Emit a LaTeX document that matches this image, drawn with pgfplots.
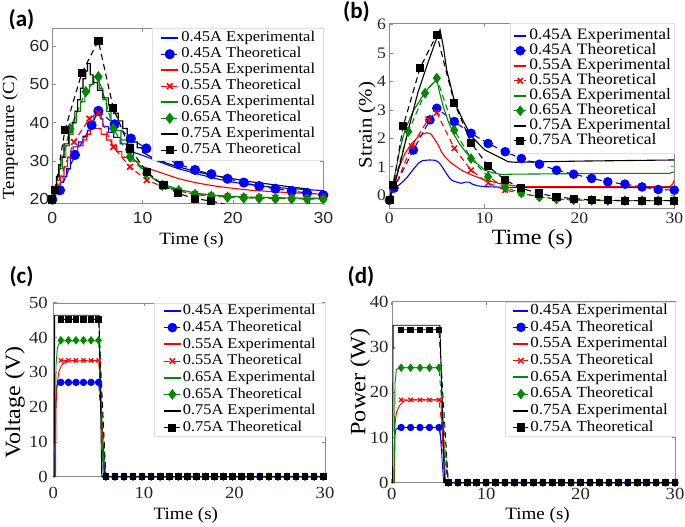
\documentclass[border=0pt]{standalone}
\usepackage{fontspec}
\setmainfont{Liberation Serif}[FakeStretch=1.1]
\setsansfont{Liberation Sans}[FakeStretch=1.1]
\newfontfamily\panelfont{Carlito}
\usepackage{pgfplots}
\usepackage{pgfplotstable}
\pgfplotsset{compat=1.18}
\definecolor{mblue}{RGB}{0,0,255}
\definecolor{mred}{RGB}{255,0,0}
\definecolor{mgreen}{RGB}{0,135,0}
\newcommand\fs[1]{\fontsize{#1}{#1}\selectfont}
\pgfplotsset{
  panel/.style={scale only axis, anchor=south west, xmin=0, xmax=30, xtick={0,10,20,30},
    tick align=inside, major tick length=3.5pt,
    axis line style={black!45}, every tick/.style={black!45, line width=0.6pt},
    /pgf/number format/assume math mode=true,
    ticklabel style={text=black!85},
    legend cell align=left},
  exp/.style={solid, line width=1.1pt, mark=none},
  th/.style={line width=1.1pt, dash pattern=on 6pt off 4pt},
  lexp/.style={solid, line width=2pt, mark=none, draw=#1, color=#1},
}
\pgfplotstableread{
t b r g k
0.83 27.1 33.4 39.2 45.2
1.67 27.1 33.4 39.2 45.2
2.5 27.1 33.4 39.2 45.2
3.33 27.1 33.4 39.2 45.2
4.17 27.1 33.4 39.2 45.2
5.0 27.1 33.4 39.2 45.2
5.8 0 0 0 0
6.8 0 0 0 0
7.8 0 0 0 0
8.8 0 0 0 0
9.8 0 0 0 0
10.8 0 0 0 0
11.8 0 0 0 0
12.8 0 0 0 0
13.8 0 0 0 0
14.8 0 0 0 0
15.8 0 0 0 0
16.8 0 0 0 0
17.8 0 0 0 0
18.8 0 0 0 0
19.8 0 0 0 0
20.8 0 0 0 0
21.8 0 0 0 0
22.8 0 0 0 0
23.8 0 0 0 0
24.8 0 0 0 0
25.8 0 0 0 0
26.8 0 0 0 0
27.8 0 0 0 0
28.8 0 0 0 0
29.8 0 0 0 0
}\thc
\pgfplotstableread{
t b r g k
1 12.2 18.3 25.4 33.8
2 12.2 18.3 25.4 33.8
3 12.2 18.3 25.4 33.8
4 12.2 18.3 25.4 33.8
5 12.2 18.3 25.4 33.8
6 0 0 0 0
7 0 0 0 0
8 0 0 0 0
9 0 0 0 0
10 0 0 0 0
11 0 0 0 0
12 0 0 0 0
13 0 0 0 0
14 0 0 0 0
15 0 0 0 0
16 0 0 0 0
17 0 0 0 0
18 0 0 0 0
19 0 0 0 0
20 0 0 0 0
21 0 0 0 0
22 0 0 0 0
23 0 0 0 0
24 0 0 0 0
25 0 0 0 0
26 0 0 0 0
27 0 0 0 0
28 0 0 0 0
29 0 0 0 0
30 0 0 0 0
}\thd
\begin{document}
\begin{tikzpicture}[x=1pt,y=1pt]
\useasboundingbox (0,0) rectangle (685,527);
% ---------------- (a) ----------------
\begin{axis}[panel, at={(52.3pt,323.7pt)}, width=271pt, height=175pt,
  ymin=19, ymax=64.65, ytick={20,30,40,50,60},
  ticklabel style={font=\sffamily\fs{16}},
  xticklabel style={inner sep=0pt, yshift=-9pt},
  yticklabel style={inner sep=0pt, xshift=-3pt},
  xlabel={Time (s)}, ylabel={Temperature (C)},
  xlabel style={font=\fs{17.3}, at={(axis description cs:0.514,-0.21)}, anchor=center},
  ylabel style={font=\fs{17}, at={(axis description cs:-0.156,0.377)}, anchor=center},
  legend style={at={(1,1)}, anchor=north east, draw=black!12, fill=white, inner xsep=8pt, inner ysep=3pt,
    font=\fs{15}, row sep=2.5pt, column sep=2pt, nodes={inner sep=0pt, text height=10.5pt, text depth=3pt}},
  ]
\addplot[exp, mblue, forget plot] coordinates {(0,20) (0.3,20) (0.3,21.5) (0.6,21.5) (0.6,23) (0.9,23) (0.9,24.5) (1.2,24.5) (1.2,26) (1.6,26) (1.6,28) (2.0,28) (2.0,31) (2.3,31) (2.3,33.7) (2.9,33.7) (2.9,35) (3.4,35) (3.4,36.5) (3.9,36.5) (3.9,38) (4.2,38) (4.2,40) (4.6,40) (4.6,42) (4.85,42) (4.85,44) (5.4,44) (5.4,41) (5.6,41) (5.6,39) (6.2,39) (6.2,37.5) (6.8,37.5) (6.8,36.2) (7.5,36.2) (7.5,34.5) (8.2,34.5) (8.2,33) (9,33) (9,32.3) (10,31.5) (11,30.6) (12,29.7) (13,28.8) (14,28) (16,26.7) (18,25.5) (20,24.5) (22,23.8) (24,23.3) (26,22.9) (28,22.6) (30,22.3)};
\addplot[th, mblue, mark=*, mark size=4.5pt, mark options={solid, fill=mblue}, forget plot] coordinates {(0,20) (0.85,22.4) (2.5,31.6) (4.35,39.4) (5.1,43.1) (6.9,39.6) (8.7,35.9) (10.4,33.3) (12.2,31) (14,29.2) (15.8,27.7) (17.6,26.6) (19.4,25.4) (21.2,24.4) (22.9,23.5) (24.7,22.8) (26.5,22.2) (28.2,21.7) (30,21.1)};
\addplot[exp, mred, forget plot] coordinates {(0,20) (0.3,20) (0.3,22) (0.6,22) (0.6,24) (0.9,24) (0.9,26) (1.3,26) (1.3,28.5) (1.7,28.5) (1.7,31) (2.2,31) (2.2,32.5) (2.8,32.5) (2.8,34) (3.4,34) (3.4,35.5) (3.8,35.5) (3.8,37) (4.2,37) (4.2,38.5) (5.4,38.5) (5.4,37) (6.0,37) (6.0,35.5) (6.6,35.5) (6.6,34) (7.1,34) (7.1,32.5) (7.7,32.5) (7.7,31) (8.5,31) (8.5,30) (9.5,30) (9.5,29) (10.5,28.2) (12,27) (14,25.4) (16,24.3) (18,23.5) (20,22.9) (22,22.4) (24,22.1) (26,21.8) (28,21.6) (30,21.4)};
\addplot[th, mred, mark=x, mark size=4pt, mark options={solid, line width=1.6pt}, forget plot] coordinates {(0,20) (2.4,35) (4.1,41.1) (5.1,42.5) (6.75,33.7) (8.6,28.5) (10.45,25) (12.3,23.3) (14,22.2) (15.8,21.4) (17.6,21) (19.4,20.8) (21.2,20.6) (22.9,20.5) (24.7,20.4) (26.5,20.3) (28.2,20.3) (30,20.2)};
\addplot[exp, mgreen, forget plot] coordinates {(0,20) (0.2,20) (0.2,22.5) (0.5,22.5) (0.5,25) (0.8,25) (0.8,28) (1.1,28) (1.1,31) (1.5,31) (1.5,34) (1.9,34) (1.9,37) (2.3,37) (2.3,40) (2.7,40) (2.7,43) (3.1,43) (3.1,45.5) (3.6,45.5) (3.6,48) (4.1,48) (4.1,50) (4.6,50) (4.6,52) (5.2,52) (5.2,49) (5.6,49) (5.6,46) (6.0,46) (6.0,43) (6.5,43) (6.5,40.5) (7.0,40.5) (7.0,38) (7.6,38) (7.6,35.5) (8.3,35.5) (8.3,33) (9,33) (9,30.6) (10,28) (11,25.8) (12,24.2) (14,22.6) (16,21.6) (18,21.1) (20,20.8) (22,20.6) (24,20.5) (26,20.4) (28,20.35) (30,20.3)};
\addplot[th, mgreen, mark=diamond*, mark size=4.8pt, mark options={solid, fill=mgreen}, forget plot] coordinates {(0,20) (1.96,38.5) (3.7,48.1) (5.1,52) (6.75,38.5) (8.6,31.1) (10.4,26.8) (12.2,23.7) (14,22.3) (15.8,21.3) (17.6,20.8) (19.4,20.6) (21.2,20.4) (22.9,20.3) (24.7,20.2) (26.5,20.2) (28.2,20.1) (30,20.1)};
\addplot[exp, black, forget plot] coordinates {(0,20) (0.15,20) (0.15,23) (0.45,23) (0.45,26) (0.7,26) (0.7,29) (0.95,29) (0.95,31) (1.3,31) (1.3,34.5) (1.8,34.5) (1.8,37.5) (2.2,37.5) (2.2,40) (2.5,40) (2.5,43) (2.8,43) (2.8,46) (3.1,46) (3.1,49) (3.4,49) (3.4,51.5) (3.7,51.5) (3.7,53.5) (3.9,53.5) (3.9,55.5) (4.2,55.5) (4.2,52.5) (4.5,52.5) (4.5,50.5) (5.0,50.5) (5.0,48.5) (5.6,48.5) (5.6,46.5) (6.2,46.5) (6.2,44.5) (6.8,44.5) (6.8,42.5) (7.3,42.5) (7.3,40.5) (7.8,40.5) (7.8,38.5) (8.3,38.5) (8.3,36.5) (8.8,36.5) (8.8,35) (9.4,35) (9.4,33.5) (10,33.5) (10,32.3) (11,31) (12,30) (13,29.2) (14,28.5) (16,27.2) (18,26.2) (20,25.4) (22,24.6) (24,24) (26,23.4) (28.3,22.7) (28.5,18)};
\addplot[th, black, mark=square*, mark size=3.6pt, mark options={solid, fill=black}, forget plot] coordinates {(0,20) (0.3,22.4) (1.4,38.1) (3.25,52.9) (5.1,61.4) (6.75,43.8) (8.6,33.3) (10.45,27.2) (12.3,23.7) (13.9,21.6) (15.8,20.2) (17.6,19.6) (19.4,18.6) (21.2,17.8)};
\addlegendimage{lexp=mblue}\addlegendentry{0.45A Experimental}
\addlegendimage{th, color=mblue, mark=*, mark size=4.5pt, mark options={solid, fill=mblue}}\addlegendentry{0.45A Theoretical}
\addlegendimage{lexp=mred}\addlegendentry{0.55A Experimental}
\addlegendimage{th, color=mred, mark=x, mark size=4pt, mark options={solid, line width=1.6pt}}\addlegendentry{0.55A Theoretical}
\addlegendimage{lexp=mgreen}\addlegendentry{0.65A Experimental}
\addlegendimage{th, color=mgreen, mark=diamond*, mark size=4.8pt, mark options={solid, fill=mgreen}}\addlegendentry{0.65A Theoretical}
\addlegendimage{lexp=black}\addlegendentry{0.75A Experimental}
\addlegendimage{th, color=black, mark=square*, mark size=3.6pt, mark options={solid, fill=black}}\addlegendentry{0.75A Theoretical}
\end{axis}
% ---------------- (b) ----------------
\begin{axis}[panel, at={(389.3pt,319pt)}, width=285pt, height=184.7pt,
  ymin=-0.45, ymax=6.05, ytick={0,1,2,3,4,5,6}, clip=false,
  ticklabel style={font=\fs{16}},
  xticklabel style={inner sep=0pt, yshift=-5pt},
  yticklabel style={inner sep=0pt, xshift=-3.3pt},
  xlabel={Time (s)}, ylabel={Strain (\%)},
  xlabel style={font=\fs{21.8}, at={(axis description cs:0.502,-0.168)}, anchor=center},
  ylabel style={font=\fs{19}, at={(axis description cs:-0.078,0.449)}, anchor=center},
  legend image code/.code={\draw[mark repeat=2,mark phase=2,#1] plot coordinates {(0pt,0pt) (6pt,0pt) (12pt,0pt)};},
  legend style={at={(1,1)}, anchor=north east, draw=black!12, fill=white, inner xsep=3pt, inner ysep=5pt,
    font=\fs{15.9}, row sep=0.5pt, column sep=2pt, nodes={inner sep=0pt, text height=11pt, text depth=3.5pt}},
  ]
\addplot[exp, mblue, forget plot] coordinates {(0,-0.18) (0.3,0.1) (0.6,0.3) (1.0,0.35) (1.5,0.5) (2.0,0.68) (2.5,0.9) (3.05,1.12) (3.5,1.22) (4.2,1.24) (4.8,1.23) (5.1,1.18) (5.4,1.08) (5.9,0.82) (6.3,0.62) (6.6,0.52) (7.2,0.45) (7.6,0.42) (8.0,0.46) (8.4,0.46) (8.8,0.38) (9.3,0.33) (10.1,0.3) (12,0.28) (15,0.27) (20,0.27) (25,0.27) (30,0.27)};
\addplot[th, mblue, mark=*, mark size=4.2pt, mark options={solid, fill=mblue}, forget plot] coordinates {(0,-0.18) (0.5,0.25) (2.53,1.59) (4.28,2.65) (5.0,3.06) (6.84,2.59) (8.6,2.18) (10.4,1.82) (12.2,1.53) (13.9,1.29) (15.8,1.09) (17.6,0.88) (19.4,0.74) (21.3,0.59) (23.0,0.47) (24.8,0.39) (26.6,0.29) (28.3,0.2) (30,0.18)};
\addplot[exp, mred, forget plot] coordinates {(0,-0.18) (0.3,0.2) (0.6,0.5) (1.0,0.95) (1.65,1.47) (2.3,1.8) (3.05,2.06) (3.5,2.15) (3.94,2.2) (4.4,2.15) (4.8,1.95) (5.16,1.76) (5.5,1.52) (5.86,1.35) (6.56,1.12) (7.6,0.88) (8.67,0.71) (10.07,0.53) (11.8,0.4) (13.2,0.33) (15,0.3) (20,0.3) (25,0.3) (29.5,0.3) (29.8,0.38) (30,0.52)};
\addplot[th, mred, mark=x, mark size=3.8pt, mark options={solid, line width=1.5pt}, forget plot] coordinates {(0,-0.18) (2.36,1.73) (4.1,2.67) (5.0,2.9) (6.84,1.65) (8.6,0.88) (10.4,0.43) (12.2,0.18) (13.9,0.06) (15.8,-0.06) (17.6,-0.13) (19.4,-0.17) (21.3,-0.18) (23,-0.19) (24.8,-0.19) (26.6,-0.19) (28.3,-0.19) (30,-0.19)};
\addplot[exp, mgreen, forget plot] coordinates {(0,-0.18) (0.3,0.3) (0.7,0.9) (1.1,1.6) (1.65,2.29) (2.5,2.95) (3.58,3.53) (4.3,3.85) (5.0,4.06) (5.3,3.6) (5.68,3.12) (6.2,2.6) (6.74,2.18) (7.4,1.8) (8.15,1.47) (9.1,1.15) (10.07,0.88) (11,0.78) (11.8,0.73) (13,0.74) (20,0.76) (25,0.77) (29.5,0.77) (30,0.82)};
\addplot[th, mgreen, mark=diamond*, mark size=4.5pt, mark options={solid, fill=mgreen}, forget plot] coordinates {(0,-0.18) (2.0,2.24) (3.76,3.59) (5.0,4.12) (6.84,2.29) (8.6,1.29) (10.4,0.65) (12.2,0.27) (13.9,0.08) (15.8,-0.06) (17.6,-0.14) (19.4,-0.17) (21.3,-0.18) (23,-0.19) (24.8,-0.19) (26.6,-0.19) (28.3,-0.19) (30,-0.19)};
\addplot[exp, black, forget plot] coordinates {(0,-0.18) (0.3,0.25) (0.6,0.41) (1.2,1.2) (2.0,2.3) (3.0,3.6) (4.0,4.6) (4.8,5.35) (5.34,5.82) (5.7,5.2) (6.04,4.41) (6.5,3.8) (6.9,3.24) (7.8,2.6) (8.67,2.06) (10.07,1.59) (11.8,1.3) (12.5,1.18) (13.2,1.16) (15,1.17) (20,1.2) (25,1.22) (30,1.24)};
\addplot[th, black, mark=square*, mark size=3.5pt, mark options={solid, fill=black}, forget plot] coordinates {(0.07,-0.18) (0.42,0.35) (1.47,2.44) (3.23,4.47) (5.0,5.65) (6.84,3.26) (8.6,1.85) (10.4,1.02) (12.2,0.53) (13.9,0.24) (15.8,0.06) (17.6,-0.06) (19.4,-0.12) (21.3,-0.16) (23,-0.18) (24.8,-0.19) (26.6,-0.19) (28.3,-0.19) (30,-0.19)};
\addlegendimage{lexp=mblue}\addlegendentry{0.45A Experimental}
\addlegendimage{th, color=mblue, mark=*, mark size=4.2pt, mark options={solid, fill=mblue}}\addlegendentry{0.45A Theoretical}
\addlegendimage{lexp=mred}\addlegendentry{0.55A Experimental}
\addlegendimage{th, color=mred, mark=x, mark size=3.8pt, mark options={solid, line width=1.5pt}}\addlegendentry{0.55A Theoretical}
\addlegendimage{lexp=mgreen}\addlegendentry{0.65A Experimental}
\addlegendimage{th, color=mgreen, mark=diamond*, mark size=4.5pt, mark options={solid, fill=mgreen}}\addlegendentry{0.65A Theoretical}
\addlegendimage{lexp=black}\addlegendentry{0.75A Experimental}
\addlegendimage{th, color=black, mark=square*, mark size=3.5pt, mark options={solid, fill=black}}\addlegendentry{0.75A Theoretical}
\end{axis}
% ---------------- (c) ----------------
\begin{axis}[panel, at={(53.3pt,50.3pt)}, width=271.7pt, height=174pt,
  ymin=0, ymax=50, ytick={0,10,20,30,40,50}, clip=false,
  ticklabel style={font=\fs{17}},
  xticklabel style={inner sep=0pt, yshift=-10pt},
  yticklabel style={inner sep=0pt, xshift=-5.3pt},
  xlabel={Time (s)}, ylabel={Voltage (V)},
  xlabel style={font=\fs{17.3}, at={(axis description cs:0.488,-0.22)}, anchor=center},
  ylabel style={font=\fs{21.8}, at={(axis description cs:-0.141,0.426)}, anchor=center},
  legend style={at={(1,1)}, anchor=north east, draw=black!12, fill=white, inner xsep=9pt, inner ysep=1.3pt,
    font=\fs{14.9}, row sep=3.2pt, column sep=1pt, nodes={inner sep=0pt, text height=10.5pt, text depth=3pt}},
  ]
\addplot[exp, mblue, line width=0.9pt, forget plot] coordinates {(0,0) (0.15,0) (0.25,20) (0.35,25.5) (0.5,26.5) (0.8,27) (5.1,27) (5.7,0) (30,0)};
\addplot[th, mblue, line width=0.9pt, mark=*, mark size=3.2pt, mark options={solid, fill=mblue}, forget plot] table[x=t, y=b] {\thc};
\addplot[exp, mred, line width=0.9pt, forget plot] coordinates {(0,0) (0.25,0) (0.3,20) (0.4,26) (0.6,30) (0.9,32) (1.3,33) (1.8,33.3) (5.1,33.3) (5.6,0) (30,0)};
\addplot[th, mred, line width=0.9pt, mark=x, mark size=3pt, mark options={solid, line width=1.2pt}, forget plot] table[x=t, y=r] {\thc};
\addplot[exp, mgreen, line width=0.9pt, forget plot] coordinates {(0,0) (0.2,0) (0.3,32) (0.45,37) (0.7,38.7) (1,39) (5.1,39) (5.5,0) (30,0)};
\addplot[th, mgreen, line width=0.9pt, mark=diamond*, mark size=3.6pt, mark options={solid, fill=mgreen}, forget plot] table[x=t, y=g] {\thc};
\addplot[exp, black, line width=0.9pt, forget plot] coordinates {(0,0) (0.1,0) (0.15,46.4) (5.05,46.4) (5.35,0) (30,0)};
\addplot[th, black, line width=0.9pt, mark=square*, mark size=2.8pt, mark options={solid, fill=black}, forget plot] table[x=t, y=k] {\thc};
\addlegendimage{lexp=mblue}\addlegendentry{0.45A Experimental}
\addlegendimage{th, color=mblue, mark=*, mark size=4.2pt, mark options={solid, fill=mblue}}\addlegendentry{0.45A Theoretical}
\addlegendimage{lexp=mred}\addlegendentry{0.55A Experimental}
\addlegendimage{th, color=mred, mark=x, mark size=3.8pt, mark options={solid, line width=1.5pt}}\addlegendentry{0.55A Theoretical}
\addlegendimage{lexp=mgreen}\addlegendentry{0.65A Experimental}
\addlegendimage{th, color=mgreen, mark=diamond*, mark size=4.5pt, mark options={solid, fill=mgreen}}\addlegendentry{0.65A Theoretical}
\addlegendimage{lexp=black}\addlegendentry{0.75A Experimental}
\addlegendimage{th, color=black, mark=square*, mark size=3.5pt, mark options={solid, fill=black}}\addlegendentry{0.75A Theoretical}
\end{axis}
% ---------------- (d) ----------------
\begin{axis}[panel, at={(391.7pt,44.3pt)}, width=283.3pt, height=181pt,
  ymin=0, ymax=40, ytick={0,10,20,30,40}, clip=false,
  ticklabel style={font=\fs{17}},
  xticklabel style={inner sep=0pt, yshift=-5pt},
  yticklabel style={inner sep=0pt, xshift=-3pt},
  xlabel={Time (s)}, ylabel={Power (W)},
  xlabel style={font=\fs{17.3}, at={(axis description cs:0.515,-0.178)}, anchor=center},
  ylabel style={font=\fs{22}, at={(axis description cs:-0.112,0.556)}, anchor=center},
  legend image code/.code={\draw[mark repeat=2,mark phase=2,#1] plot coordinates {(0pt,0pt) (7.5pt,0pt) (15pt,0pt)};},
  legend style={at={(1,1)}, anchor=north east, draw=black!12, fill=white, inner xsep=7pt, inner ysep=2pt,
    font=\fs{15.4}, row sep=3.2pt, column sep=1pt, nodes={inner sep=0pt, text height=10.5pt, text depth=3pt}},
  ]
\addplot[exp, mblue, line width=0.9pt, forget plot] coordinates {(0,0) (0.25,0) (0.3,10) (0.45,11.8) (0.8,12.2) (5.1,12.2) (5.5,0) (30,0)};
\addplot[th, mblue, line width=0.9pt, mark=*, mark size=3.2pt, mark options={solid, fill=mblue}, forget plot] table[x=t, y=b] {\thd};
\addplot[exp, mred, line width=0.9pt, forget plot] coordinates {(0,0) (0.3,0) (0.35,13) (0.5,15.5) (0.8,17) (1.3,18) (1.8,18.3) (5.2,18.3) (5.6,0) (30,0)};
\addplot[th, mred, line width=0.9pt, mark=x, mark size=3pt, mark options={solid, line width=1.2pt}, forget plot] table[x=t, y=r] {\thd};
\addplot[exp, mgreen, line width=0.9pt, forget plot] coordinates {(0,0) (0.25,0) (0.35,22) (0.5,25) (0.8,25.4) (5.2,25.4) (5.7,0) (30,0)};
\addplot[th, mgreen, line width=0.9pt, mark=diamond*, mark size=3.6pt, mark options={solid, fill=mgreen}, forget plot] table[x=t, y=g] {\thd};
\addplot[exp, black, line width=0.9pt, forget plot] coordinates {(0,0) (0.1,0) (0.15,34.8) (5.1,34.8) (5.6,0) (30,0)};
\addplot[th, black, line width=0.9pt, mark=square*, mark size=2.8pt, mark options={solid, fill=black}, forget plot] table[x=t, y=k] {\thd};
\addlegendimage{lexp=mblue}\addlegendentry{0.45A Experimental}
\addlegendimage{th, color=mblue, mark=*, mark size=4.2pt, mark options={solid, fill=mblue}}\addlegendentry{0.45A Theoretical}
\addlegendimage{lexp=mred}\addlegendentry{0.55A Experimental}
\addlegendimage{th, color=mred, mark=x, mark size=3.8pt, mark options={solid, line width=1.5pt}}\addlegendentry{0.55A Theoretical}
\addlegendimage{lexp=mgreen}\addlegendentry{0.65A Experimental}
\addlegendimage{th, color=mgreen, mark=diamond*, mark size=4.5pt, mark options={solid, fill=mgreen}}\addlegendentry{0.65A Theoretical}
\addlegendimage{lexp=black}\addlegendentry{0.75A Experimental}
\addlegendimage{th, color=black, mark=square*, mark size=3.5pt, mark options={solid, fill=black}}\addlegendentry{0.75A Theoretical}
\end{axis}
% panel letters
\node[font=\panelfont\bfseries\fs{23}] at (21.5,507) {(a)};
\node[font=\panelfont\bfseries\fs{23}] at (356.5,515) {(b)};
\node[font=\panelfont\bfseries\fs{23}] at (21.5,250) {(c)};
\node[font=\panelfont\bfseries\fs{23}] at (361,250) {(d)};
\end{tikzpicture}
\end{document}
